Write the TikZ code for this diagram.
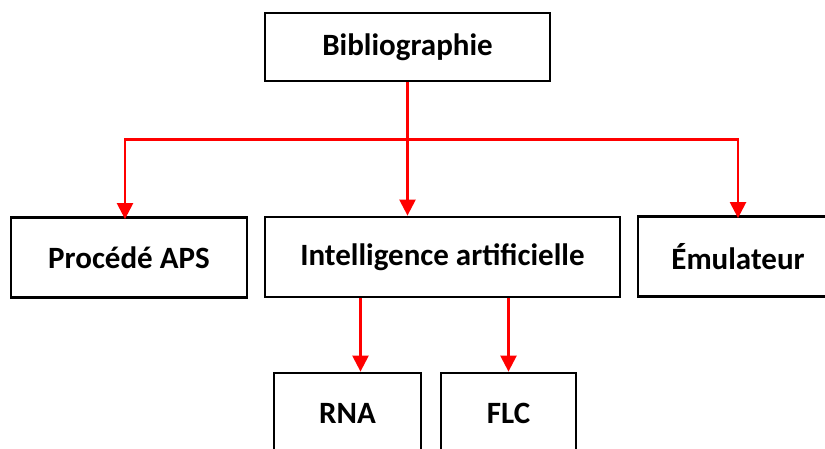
\documentclass[tikz,border=0pt]{standalone}
\usepackage{fontspec}
\setmainfont{Carlito}
\usetikzlibrary{positioning, arrows.meta, calc}
\tikzset{
  topic/.style={
    rectangle,
    draw=black, line width=2.8pt,
    inner sep=0pt,
    minimum height=80pt,
    text centered,
    font=\fontsize{31}{36}\selectfont\bfseries
  },
  arrow/.style={
    draw=red,
    line width=2.4pt,
    -{Triangle[length=16pt, width=16pt]}
  }
}

\begin{document}
\begin{tikzpicture}[x=1pt, y=-1pt]
\useasboundingbox (0,0) rectangle (825,448);
\clip (0,0) rectangle (825,448);

% nodes
\node[topic, minimum width=285pt, minimum height=68pt] (bib) at (407.5,47) {Bibliographie};
\node[topic, minimum width=236pt] (aps) at (129,257.5) {Procédé APS};
\node[topic, minimum width=355pt] (ia) at (442.5,257) {Intelligence artificielle};
\node[topic, minimum width=200pt] (emu) at (738,256.5) {Émulateur};
\node[topic, minimum width=147pt] (rna) at (347.5,413) {RNA};
\node[topic, minimum width=135pt] (flc) at (508.5,413) {FLC};

% edges

%% bib
\coordinate (split) at ($(bib.south)+(0,57)$);
\draw [arrow] (bib.south) -- (bib.south |- ia.north);
\draw [arrow] (split) -| ([xshift=-4pt, yshift=-3pt]aps.north);
\draw [arrow] (split) -| ([yshift=-3pt]emu.north);

%% ia
\draw [arrow] ([xshift=13pt]rna.north |- ia.south) -- ([xshift=13pt]rna.north);
\draw [arrow] (flc.north |- ia.south) -- (flc.north);

\end{tikzpicture}
\end{document}
